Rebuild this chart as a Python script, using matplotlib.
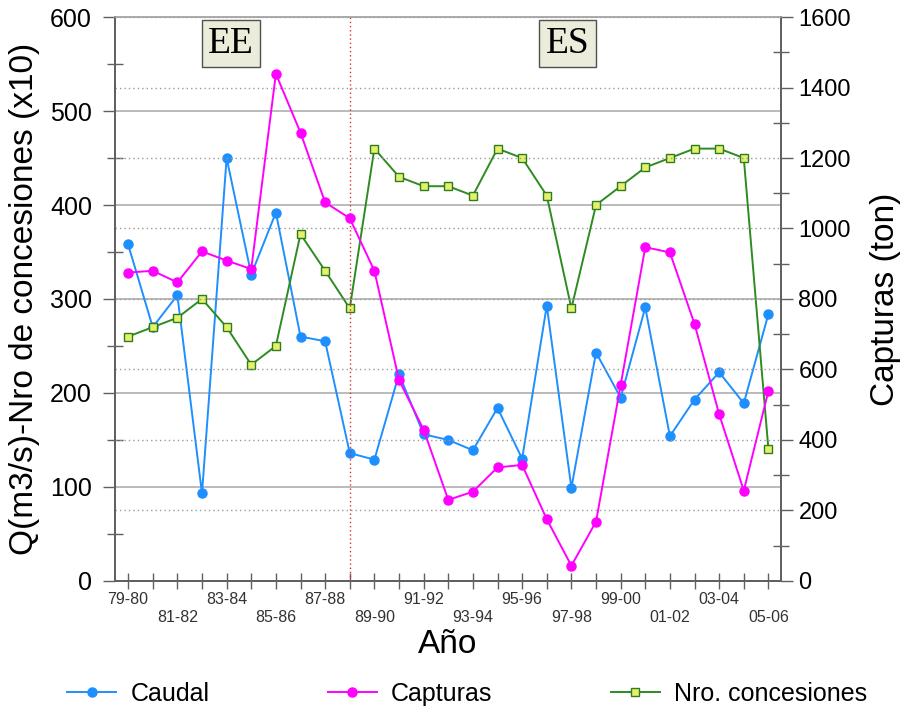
import matplotlib
matplotlib.use("Agg")
import matplotlib.pyplot as plt
from matplotlib.ticker import MultipleLocator

plt.rcParams["font.family"] = ["Liberation Sans", "DejaVu Sans"]

# años hidrológicos 79-80 ... 05-06
anios = ["79-80", "80-81", "81-82", "82-83", "83-84", "84-85", "85-86", "86-87",
         "87-88", "88-89", "89-90", "90-91", "91-92", "92-93", "93-94", "94-95",
         "95-96", "96-97", "97-98", "98-99", "99-00", "00-01", "01-02", "02-03",
         "03-04", "04-05", "05-06"]

caudal = [358, 270, 304, 93, 450, 326, 392, 260, 255, 136, 129, 220, 156, 150,
          139, 184, 130, 293, 99, 243, 195, 291, 154, 193, 222, 189, 284]

capturas = [875, 880, 847, 935, 909, 885, 1439, 1272, 1074, 1029, 880, 570, 429,
            230, 253, 322, 329, 175, 43, 168, 556, 947, 932, 729, 473, 256, 539]

concesiones = [260, 270, 280, 300, 270, 230, 250, 369, 330, 290, 460, 430, 420,
               420, 410, 460, 450, 410, 290, 400, 420, 440, 450, 460, 460, 450, 140]

x = list(range(len(anios)))
corte = 9  # 88-89: paso de EE a ES

fig = plt.figure(figsize=(9.06, 7.11), dpi=100)
ax = fig.add_subplot(111)
fig.subplots_adjust(left=0.127, right=0.862, bottom=0.183, top=0.976)
ax2 = ax.twinx()

GRID = "#a8a8a8"
SPINE = "#606060"

# rejilla: sólida para el eje izquierdo, punteada para el derecho
ax.yaxis.grid(True, color=GRID, lw=1.1, ls="-")
ax.set_axisbelow(True)
ax2.yaxis.grid(True, color="#9a9a9a", lw=1.0, ls=(0, (1, 2.2)))

l1, = ax.plot(x, caudal, color="#1e8fff", lw=1.4, marker="o", ms=6.5,
              label="Caudal")
l3, = ax.plot(x, concesiones, color="#2e8b22", lw=1.4, marker="s", ms=6,
              mfc="#e6f06a", mec="#2e7d1e", mew=1.0, label="Nro. concesiones")
l2, = ax2.plot(x, capturas, color="#ff00ff", lw=1.4, marker="o", ms=6.5,
               label="Capturas")

ax.axvline(corte, color="#e03030", lw=1.0, ls=(0, (1, 2)))

ax.set_xlim(-0.53, 26.51)
ax.set_ylim(0, 600)
ax2.set_ylim(0, 1600)

# etiquetas del eje x en dos filas, una cada dos años
xlabels = []
for i, a in enumerate(anios):
    if i % 2:
        xlabels.append("")
    elif i % 4 == 0:
        xlabels.append(a)
    else:
        xlabels.append("\n" + a)
ax.set_xticks(x)
ax.set_xticklabels(xlabels, fontsize=11.5, color="#333333", linespacing=1.3)
ax.tick_params(axis="x", direction="inout", length=11.5, width=1, color=SPINE,
               pad=2)

ax.yaxis.set_major_locator(MultipleLocator(100))
ax.yaxis.set_minor_locator(MultipleLocator(50))
ax.tick_params(axis="y", which="major", direction="out", length=8.6, width=1,
               color=SPINE, labelsize=18, pad=8)
ax.tick_params(axis="y", which="minor", direction="inout", length=11.5,
               width=1, color=SPINE)

ax2.yaxis.set_major_locator(MultipleLocator(200))
ax2.yaxis.set_minor_locator(MultipleLocator(100))
ax2.tick_params(axis="y", which="major", direction="out", length=8.6, width=1,
                color=SPINE, labelsize=17, pad=4)
ax2.tick_params(axis="y", which="minor", direction="inout", length=11,
                width=1, color=SPINE)

for a in (ax, ax2):
    for s in ("left", "right", "bottom"):
        a.spines[s].set_color(SPINE)
        a.spines[s].set_linewidth(1.3)
    a.spines["top"].set_color(GRID)
    a.spines["top"].set_linewidth(1.1)

ax.set_ylabel("Q(m3/s)-Nro de concesiones (x10)", fontsize=24)
ax.yaxis.set_label_coords(-0.113, 0.5)
ax2.set_ylabel("Capturas (ton)", fontsize=24)
ax2.yaxis.set_label_coords(1.133, 0.5)
ax.set_xlabel("Año", fontsize=24)
ax.xaxis.set_label_coords(0.5, -0.085)

caja = dict(boxstyle="square,pad=0.17", fc="#ececda", ec="#505050", lw=1.0)
ax.text(4.18, 572, "EE", fontsize=27, family="Liberation Serif",
        ha="center", va="center", bbox=caja)
ax.text(17.85, 572, "ES", fontsize=27, family="Liberation Serif",
        ha="center", va="center", bbox=caja)

fig.legend(handles=[l1, l2, l3], loc="center", bbox_to_anchor=(0.5155, 0.024),
           ncol=3, frameon=False, fontsize=18, handlelength=1.96,
           handletextpad=0.56, columnspacing=4.74, borderaxespad=0)

fig.savefig("out.png", dpi=100)
